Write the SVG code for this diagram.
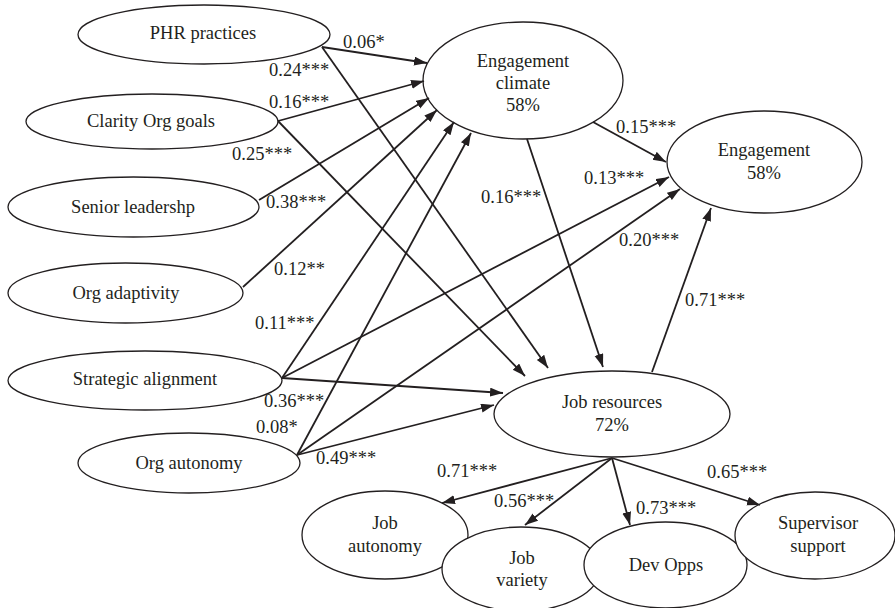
<svg xmlns="http://www.w3.org/2000/svg" width="895" height="608" viewBox="0 0 895 608" font-family="'Liberation Serif', 'Times New Roman', 'DejaVu Serif', serif" font-size="18.5">
<defs>
<marker id="arr" markerUnits="userSpaceOnUse" markerWidth="14" markerHeight="10" refX="13" refY="4.5" orient="auto">
<path d="M0,0 L13,4.5 L0,9 z" fill="#231f20"/>
</marker>
<style>
.n ellipse{fill:#fff;stroke:#231f20;stroke-width:1.3}
text{font-family:'Liberation Serif','Times New Roman','DejaVu Serif',serif;font-size:18.5px;fill:#231f20}
.n text{text-anchor:middle}
#edges line{stroke:#231f20;stroke-width:1.8;marker-end:url(#arr)}
</style>
</defs>
<rect width="895" height="608" fill="#fff"/>
<g id="phr" class="n"><ellipse cx="204" cy="34.5" rx="126" ry="29.5"/><text x="203" y="39">PHR practices</text></g>
<g id="clarity" class="n"><ellipse cx="152" cy="121.5" rx="126" ry="27.5"/><text x="151" y="127">Clarity Org goals</text></g>
<g id="senior" class="n"><ellipse cx="133.5" cy="207" rx="125.5" ry="30"/><text x="133" y="213">Senior leadershp</text></g>
<g id="adapt" class="n"><ellipse cx="125.5" cy="293" rx="117.5" ry="30"/><text x="126" y="299">Org adaptivity</text></g>
<g id="strategic" class="n"><ellipse cx="145" cy="380.5" rx="137" ry="29.5"/><text x="145" y="385">Strategic alignment</text></g>
<g id="orgauto" class="n"><ellipse cx="189" cy="463" rx="111" ry="30"/><text x="189" y="469">Org autonomy</text></g>
<g id="climate" class="n"><ellipse cx="523" cy="80.5" rx="100" ry="58.5"/><text x="523" y="67">Engagement</text><text x="523" y="89">climate</text><text x="523" y="111">58%</text></g>
<g id="engagement" class="n"><ellipse cx="764.5" cy="162" rx="97.5" ry="51"/><text x="764" y="156">Engagement</text><text x="764" y="179">58%</text></g>
<g id="jobres" class="n"><ellipse cx="612" cy="414" rx="118" ry="43"/><text x="612" y="408">Job resources</text><text x="612" y="431">72%</text></g>
<g id="jobauto" class="n"><ellipse cx="385" cy="535" rx="83" ry="44"/><text x="385" y="529">Job</text><text x="385" y="552">autonomy</text></g>
<g id="variety" class="n"><ellipse cx="521" cy="569" rx="79" ry="42"/><text x="522" y="564">Job</text><text x="522" y="586">variety</text></g>
<g id="devopps" class="n"><ellipse cx="665.5" cy="565" rx="81.5" ry="43"/><text x="666" y="571">Dev Opps</text></g>
<g id="supervisor" class="n"><ellipse cx="815" cy="535.5" rx="80" ry="43.5"/><text x="818" y="529">Supervisor</text><text x="818" y="552">support</text></g>
<g id="edges">
<line x1="322" y1="47" x2="427" y2="63"/>
<line x1="278" y1="121" x2="424" y2="81"/>
<line x1="259" y1="200" x2="429" y2="98"/>
<line x1="243" y1="287" x2="437" y2="110"/>
<line x1="282" y1="378" x2="454" y2="122"/>
<line x1="297" y1="455" x2="471" y2="133"/>
<line x1="322" y1="47" x2="548" y2="368"/>
<line x1="278" y1="121" x2="525" y2="376"/>
<line x1="527" y1="139" x2="603" y2="367"/>
<line x1="282" y1="378" x2="503" y2="393"/>
<line x1="297" y1="455" x2="494" y2="405"/>
<line x1="593" y1="122" x2="666" y2="162"/>
<line x1="282" y1="378" x2="669" y2="177"/>
<line x1="297" y1="455" x2="680" y2="189"/>
<line x1="652" y1="372" x2="711" y2="208"/>
<line x1="612" y1="458" x2="442" y2="503"/>
<line x1="612" y1="458" x2="525" y2="525"/>
<line x1="612" y1="458" x2="630" y2="525"/>
<line x1="612" y1="458" x2="760" y2="505"/>
</g>
<g id="labels">
<text x="343" y="48">0.06*</text>
<text x="269" y="76">0.24***</text>
<text x="269" y="108">0.16***</text>
<text x="232" y="160">0.25***</text>
<text x="266" y="208">0.38***</text>
<text x="274" y="275">0.12**</text>
<text x="255" y="329">0.11***</text>
<text x="264" y="407">0.36***</text>
<text x="256" y="433">0.08*</text>
<text x="316" y="464">0.49***</text>
<text x="616" y="133">0.15***</text>
<text x="584" y="184">0.13***</text>
<text x="481" y="203">0.16***</text>
<text x="619" y="246">0.20***</text>
<text x="685" y="306">0.71***</text>
<text x="437" y="477">0.71***</text>
<text x="494" y="507">0.56***</text>
<text x="636" y="514">0.73***</text>
<text x="707" y="478">0.65***</text>
</g>
</svg>
